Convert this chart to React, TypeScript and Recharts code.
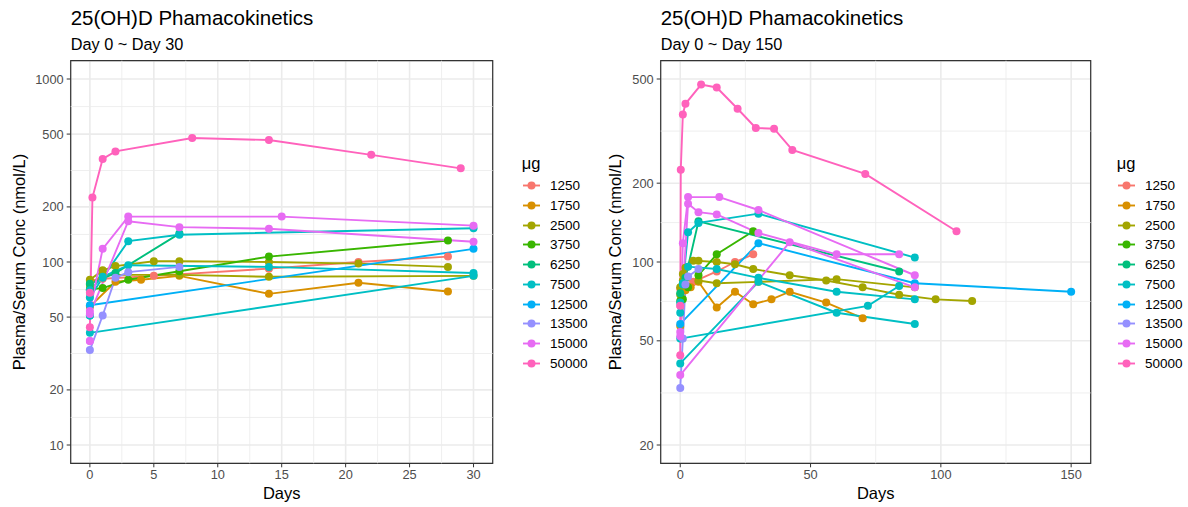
import React from "react";
import {
  LineChart,
  Line,
  XAxis,
  YAxis,
  CartesianGrid,
  ReferenceLine,
  ReferenceArea,
} from "recharts";

const FONT = '"Liberation Sans", Arial, Helvetica, sans-serif';

const doses = ["1250", "1750", "2500", "3750", "6250", "7500", "12500", "13500", "15000", "50000"];
const doseColors = ["#F8766D", "#D89000", "#A3A500", "#39B600", "#00BF7D", "#00BFC4", "#00B0F6", "#9590FF", "#E76BF3", "#FF62BC"];

// [day, 25(OH)D nmol/L] per study arm
const d1250 = [[0, 79], [1, 81], [5, 84], [14, 92], [21, 100], [28, 107]];
const d1750 = [[0, 57], [2, 78], [4, 80], [7, 84], [14, 67], [21, 77], [28, 69], [35, 72], [42, 77], [56, 70], [70, 61]];
const d2500a = [[0, 80], [1, 90], [2, 95], [5, 101], [7, 101], [14, 100], [21, 98], [28, 94], [42, 89], [56, 85], [70, 80], [84, 75], [98, 72], [112, 71]];
const d2500b = [[0, 75], [1, 85], [7, 85], [14, 83], [30, 84], [60, 86], [90, 80]];
const d3750 = [[0, 71], [1, 72], [3, 80], [7, 89], [14, 107], [28, 131]];
const d6250 = [[0, 76], [2, 87], [7, 143], [84, 92]];
const d7500a = [[0, 41], [30, 84], [60, 64], [90, 58]];
const d7500b = [[0, 64], [1, 82], [3, 130], [7, 141], [30, 153], [90, 104]];
const d7500c = [[0, 70], [1, 83], [3, 96], [14, 94], [30, 87], [60, 77], [90, 72]];
const d7500d = [[0, 51], [72, 68], [84, 81]];
const d12500 = [[0, 58], [30, 118], [90, 83], [150, 77]];
const d13500 = [[0, 33], [1, 51], [2, 82], [3, 88], [7, 94]];
const d15000a = [[0, 54], [1, 118], [3, 177], [15, 177], [30, 158], [90, 89]];
const d15000b = [[0, 52], [3, 167], [7, 155], [14, 152], [30, 129], [60, 107], [84, 107]];
const d15000c = [[0, 37], [42, 119], [90, 80]];
const d50000a = [[0, 44], [0.2, 225], [1, 366], [2, 402], [8, 476], [14, 464], [22, 385], [29, 325], [36, 323], [43, 268], [71, 217], [106, 131]];
const d50000b = [[0, 68]];

const studies = [
  { dose: "1250", pts: d1250 },
  { dose: "1750", pts: d1750 },
  { dose: "2500", pts: d2500a },
  { dose: "2500", pts: d2500b },
  { dose: "3750", pts: d3750 },
  { dose: "6250", pts: d6250 },
  { dose: "7500", pts: d7500a },
  { dose: "7500", pts: d7500b },
  { dose: "7500", pts: d7500c },
  { dose: "7500", pts: d7500d },
  { dose: "12500", pts: d12500 },
  { dose: "13500", pts: d13500 },
  { dose: "15000", pts: d15000a },
  { dose: "15000", pts: d15000b },
  { dose: "15000", pts: d15000c },
  { dose: "50000", pts: d50000a },
  { dose: "50000", pts: d50000b },
];

const shortXTicks = [0, 5, 10, 15, 20, 25, 30];
const shortYTicks = [10, 20, 50, 100, 200, 500, 1000];
const longXTicks = [0, 50, 100, 150];
const longYTicks = [20, 50, 100, 200, 500];

const colorOf = (dose: string) => doseColors[doses.indexOf(dose)];

// ggplot-style 5% expansion (log space for y)
function expandLin(lo: number, hi: number): [number, number] {
  const e = (hi - lo) * 0.05;
  return [lo - e, hi + e];
}
function expandLog(lo: number, hi: number): [number, number] {
  const a = Math.log10(lo);
  const b = Math.log10(hi);
  const e = (b - a) * 0.05;
  return [Math.pow(10, a - e), Math.pow(10, b + e)];
}

function PkPanel({
  width,
  maxDay,
  xTicks,
  yTicks,
}: {
  width: number;
  maxDay: number;
  xTicks: number[];
  yTicks: number[];
}) {
  const xDomain = expandLin(xTicks[0], xTicks[xTicks.length - 1]);
  const yDomain = expandLog(yTicks[0], yTicks[yTicks.length - 1]);
  const xMinor = xTicks.slice(1).map((t, i) => (t + xTicks[i]) / 2);
  const yMinor = yTicks.slice(1).map((t, i) => Math.sqrt(t * yTicks[i]));

  const series = studies.map((s, i) => ({
    key: `${s.dose}-${i}`,
    color: colorOf(s.dose),
    data: s.pts.filter(([d]) => d <= maxDay).map(([day, conc]) => ({ day, conc })),
  }));

  const tickStyle = { fill: "#4D4D4D", fontSize: 12.8, fontFamily: FONT };

  return (
    <LineChart
      width={width}
      height={507}
      margin={{ top: 60.7, right: 7.3, bottom: 19.7, left: 10.7 }}
    >
      <CartesianGrid stroke="#EBEBEB" strokeWidth={1.6} />
      {xMinor.map((x) => (
        <ReferenceLine key={`vx${x}`} x={x} stroke="#EBEBEB" strokeWidth={0.8} />
      ))}
      {yMinor.map((y) => (
        <ReferenceLine key={`hy${y}`} y={y} stroke="#EBEBEB" strokeWidth={0.8} />
      ))}
      <XAxis
        type="number"
        dataKey="day"
        domain={xDomain}
        ticks={xTicks}
        interval={0}
        allowDataOverflow
        axisLine={false}
        tickSize={4}
        tickMargin={3}
        tickLine={{ stroke: "#333333" }}
        tick={tickStyle}
        height={24}
      />
      <YAxis
        type="number"
        scale="log"
        domain={yDomain}
        ticks={yTicks}
        interval={0}
        allowDataOverflow
        axisLine={false}
        tickSize={4}
        tickMargin={3}
        tickLine={{ stroke: "#333333" }}
        tick={tickStyle}
        width={60}
      />
      {series.map((s) => (
        <Line
          key={s.key}
          data={s.data}
          dataKey="conc"
          stroke={s.color}
          strokeWidth={1.9}
          dot={false}
          activeDot={false}
          isAnimationActive={false}
        />
      ))}
      {series.map((s) => (
        <Line
          key={`${s.key}-pt`}
          data={s.data}
          dataKey="conc"
          stroke="none"
          dot={{ r: 4, fill: s.color, stroke: s.color, strokeWidth: 0 }}
          activeDot={false}
          isAnimationActive={false}
        />
      ))}
      <ReferenceArea
        x1={xDomain[0]}
        x2={xDomain[1]}
        y1={yDomain[0]}
        y2={yDomain[1]}
        fill="none"
        stroke="#333333"
        strokeWidth={1.2}
        ifOverflow="visible"
      />
    </LineChart>
  );
}

function DoseLegend({ left }: { left: number }) {
  return (
    <>
      <div
        style={{
          position: "absolute",
          left,
          top: 152,
          height: 22,
          lineHeight: "22px",
          fontSize: 16.5,
          color: "#000",
        }}
      >
        μg
      </div>
      {doses.map((d, i) => (
        <div
          key={d}
          style={{
            position: "absolute",
            left: left + 1.3,
            top: 176 + i * 19.7,
            height: 19.7,
            display: "flex",
            alignItems: "center",
          }}
        >
          <svg width={17} height={17} style={{ display: "block" }}>
            <line x1={0} x2={17} y1={8.5} y2={8.5} stroke={doseColors[i]} strokeWidth={1.9} />
            <circle cx={8.5} cy={8.5} r={4} fill={doseColors[i]} />
          </svg>
          <span style={{ marginLeft: 10, fontSize: 13.5, color: "#000" }}>{d}</span>
        </div>
      ))}
    </>
  );
}

function Titles({
  left,
  subtitle,
  plotWidth,
  yTitleX,
}: {
  left: number;
  subtitle: string;
  plotWidth: number;
  yTitleX: number;
}) {
  return (
    <>
      <div style={{ position: "absolute", left, top: 7.8, fontSize: 20.5, lineHeight: 1, whiteSpace: "nowrap" }}>
        25(OH)D Phamacokinetics
      </div>
      <div style={{ position: "absolute", left, top: 36, fontSize: 16.3, lineHeight: 1, whiteSpace: "nowrap" }}>
        {subtitle}
      </div>
      <div
        style={{
          position: "absolute",
          left: left + plotWidth / 2,
          top: 485,
          fontSize: 16.5,
          lineHeight: 1,
          transform: "translateX(-50%)",
          whiteSpace: "nowrap",
        }}
      >
        Days
      </div>
      <div
        style={{
          position: "absolute",
          left: yTitleX,
          top: 262,
          fontSize: 16.5,
          lineHeight: 1,
          transform: "translate(-50%, -50%) rotate(-90deg)",
          whiteSpace: "nowrap",
        }}
      >
        Plasma/Serum Conc (nmol/L)
      </div>
    </>
  );
}

export default function App() {
  return (
    <div
      style={{
        position: "absolute",
        left: 0,
        top: 0,
        width: 1188,
        height: 507,
        background: "#fff",
        fontFamily: FONT,
        color: "#000",
        overflow: "hidden",
      }}
    >
      <div style={{ position: "absolute", left: 0, top: 0 }}>
        <PkPanel width={500} maxDay={30} xTicks={shortXTicks} yTicks={shortYTicks} />
      </div>
      <div style={{ position: "absolute", left: 590, top: 0 }}>
        <PkPanel width={508} maxDay={150} xTicks={longXTicks} yTicks={longYTicks} />
      </div>
      <Titles left={70.7} subtitle="Day 0 ~ Day 30" plotWidth={422} yTitleX={19} />
      <Titles left={660.7} subtitle="Day 0 ~ Day 150" plotWidth={430} yTitleX={615} />
      <DoseLegend left={521.7} />
      <DoseLegend left={1116.7} />
    </div>
  );
}
